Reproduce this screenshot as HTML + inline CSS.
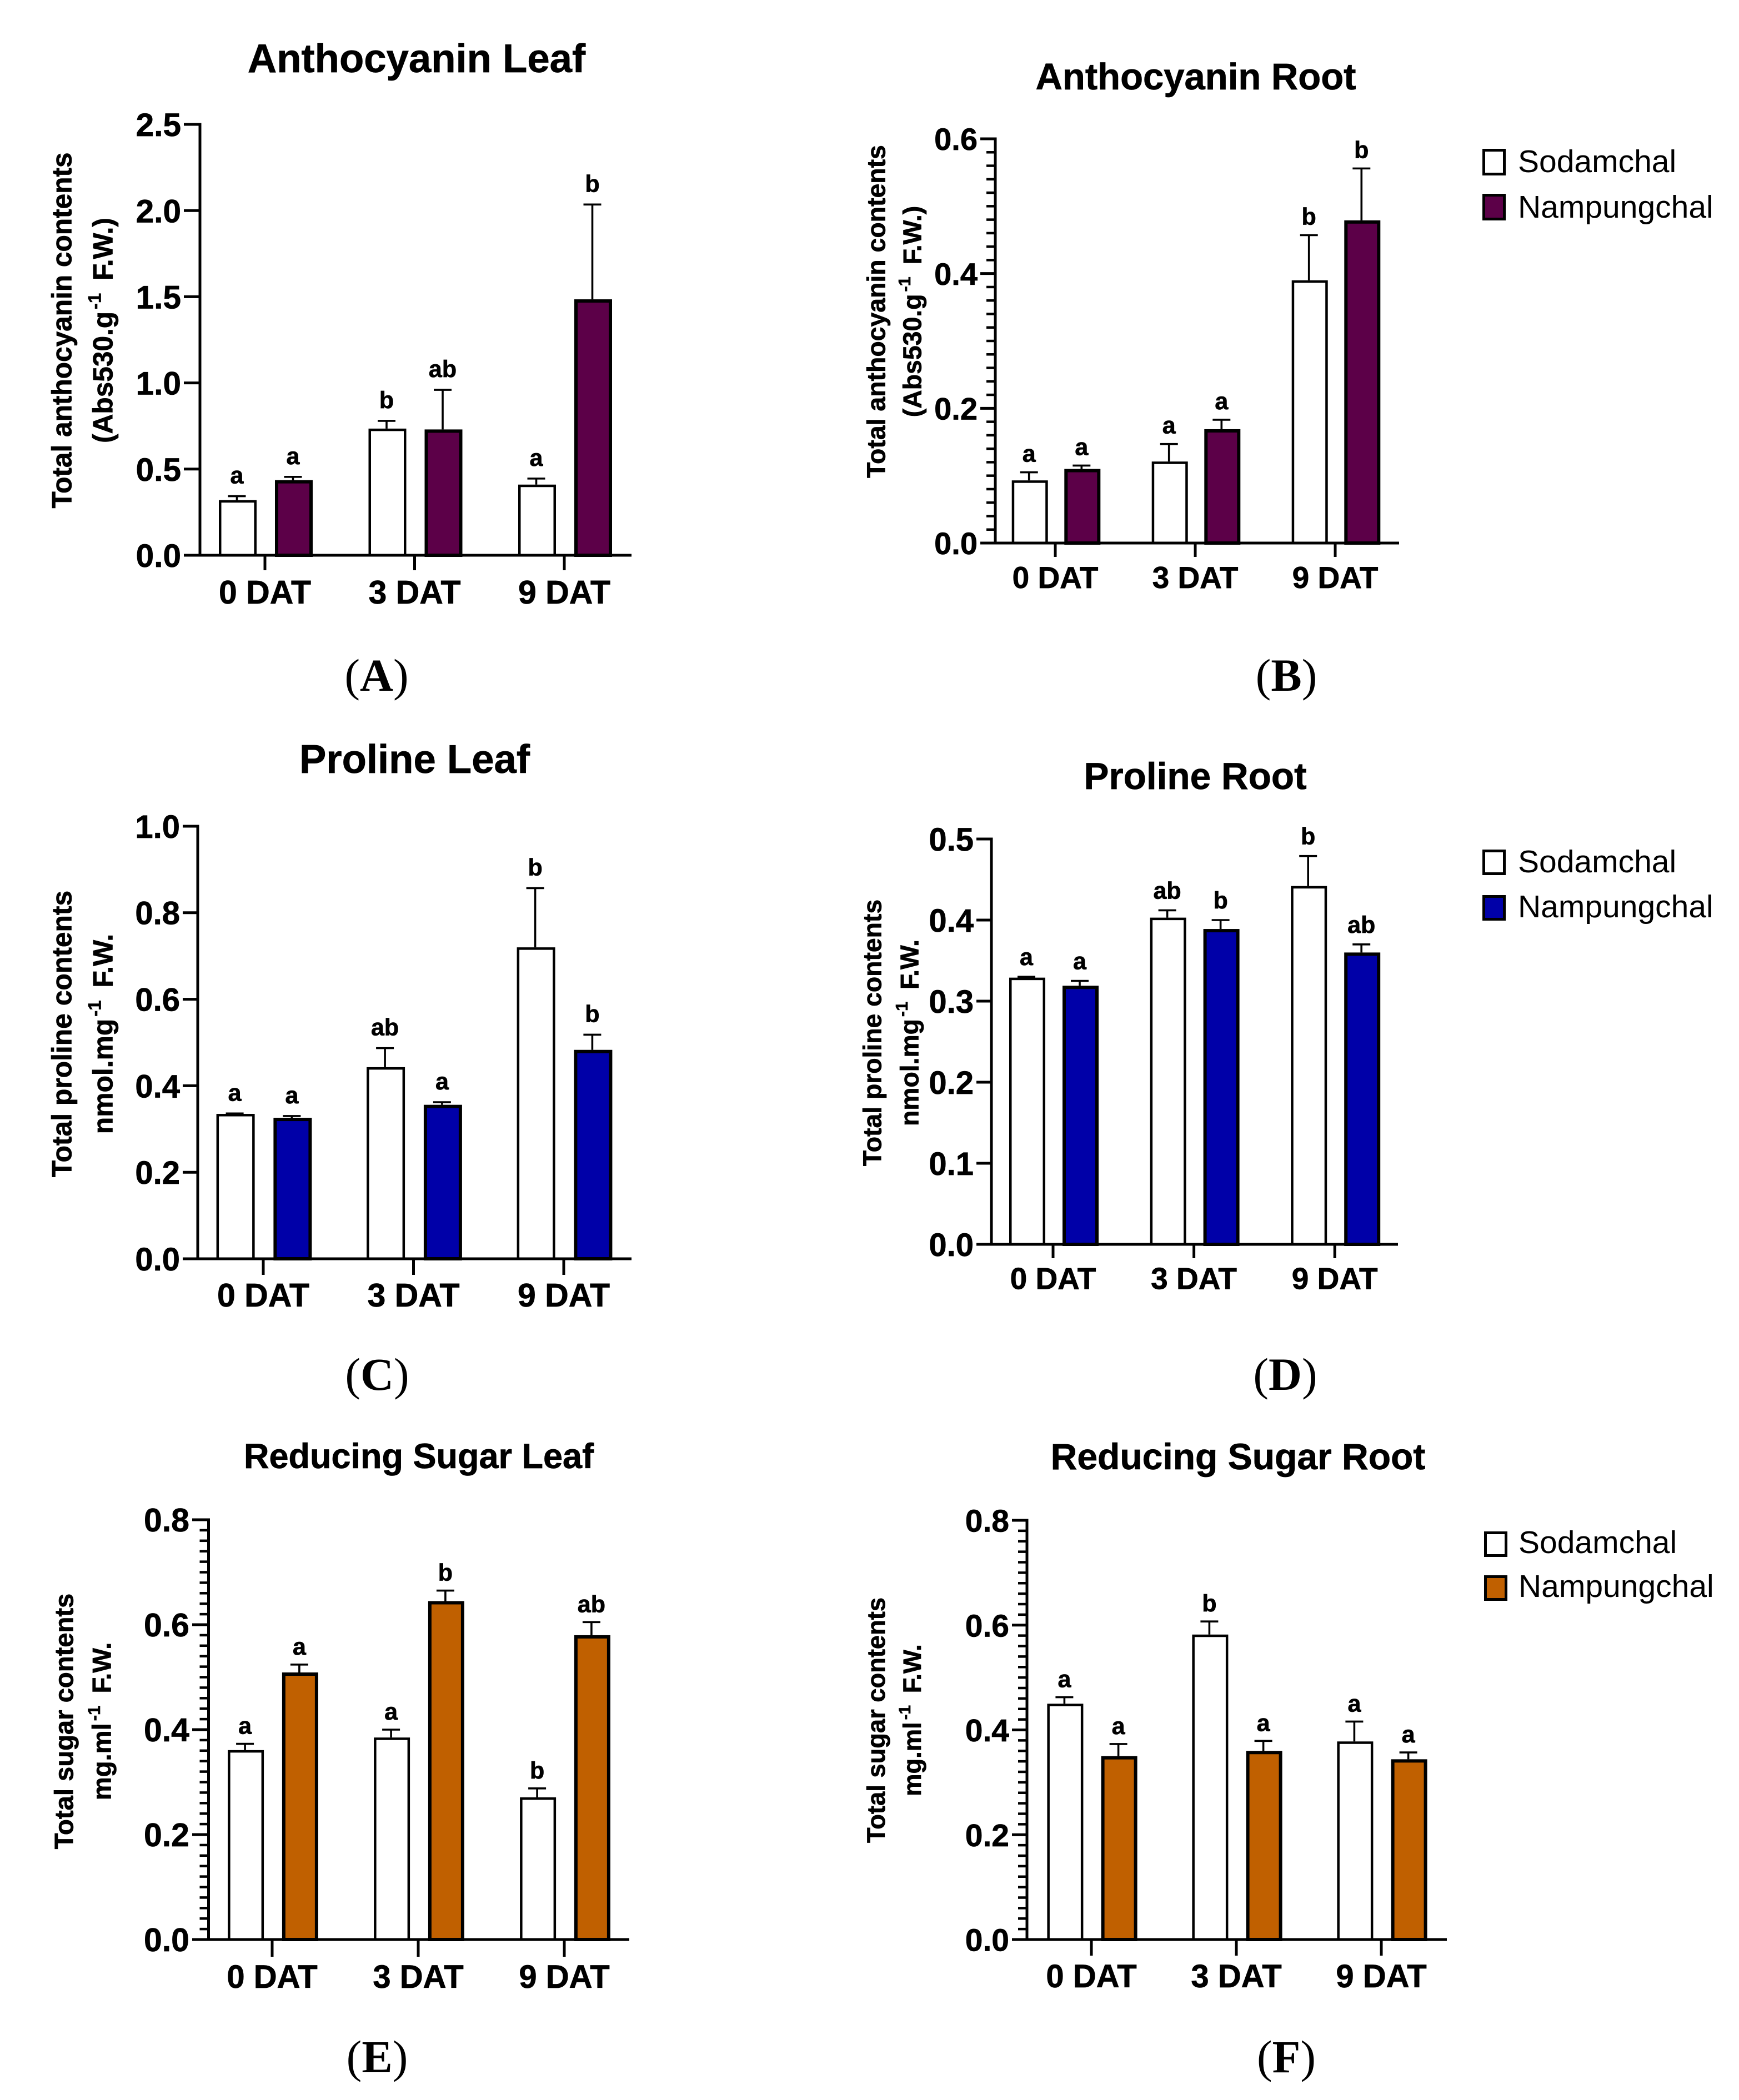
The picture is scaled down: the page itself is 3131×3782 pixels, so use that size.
<!DOCTYPE html>
<html lang="en">
<head>
<meta charset="utf-8">
<title>Anthocyanin, proline and reducing sugar contents</title>
<style>
html,body{margin:0;padding:0;background:#fff;}
svg{display:block;}
text{font-family:"Liberation Sans",Arial,sans-serif;fill:#000;}
text[font-weight="bold"]{stroke:#000;stroke-width:0.7px;}
.serif{font-family:"Liberation Serif","Times New Roman",serif;}
</style>
</head>
<body>
<svg id="figure" xmlns="http://www.w3.org/2000/svg" width="3131" height="3782" viewBox="0 0 3131 3782"></svg>
<script>
const categories = ['0 DAT', '3 DAT', '9 DAT'];
const legendNames = ['Sodamchal', 'Nampungchal'];

const anthoLeafTicks = ['0.0', '0.5', '1.0', '1.5', '2.0', '2.5'];
const anthoLeafSodamchal = [0.32, 0.735, 0.41];
const anthoLeafNampungchal = [0.436, 0.73, 1.485];
const anthoLeafSodamchalUpper = [0.343, 0.78, 0.445];
const anthoLeafNampungchalUpper = [0.455, 0.96, 2.035];
const anthoLeafSodamchalLetters = ['a', 'b', 'a'];
const anthoLeafNampungchalLetters = ['a', 'ab', 'b'];

const anthoRootTicks = ['0.0', '0.2', '0.4', '0.6'];
const anthoRootSodamchal = [0.093, 0.121, 0.39];
const anthoRootNampungchal = [0.11, 0.169, 0.479];
const anthoRootSodamchalUpper = [0.105, 0.147, 0.457];
const anthoRootNampungchalUpper = [0.115, 0.183, 0.556];
const anthoRootSodamchalLetters = ['a', 'a', 'b'];
const anthoRootNampungchalLetters = ['a', 'a', 'b'];

const prolineLeafTicks = ['0.0', '0.2', '0.4', '0.6', '0.8', '1.0'];
const prolineLeafSodamchal = [0.335, 0.443, 0.72];
const prolineLeafNampungchal = [0.326, 0.356, 0.483];
const prolineLeafSodamchalUpper = [0.336, 0.487, 0.857];
const prolineLeafNampungchalUpper = [0.33, 0.362, 0.518];
const prolineLeafSodamchalLetters = ['a', 'ab', 'b'];
const prolineLeafNampungchalLetters = ['a', 'a', 'b'];

const prolineRootTicks = ['0.0', '0.1', '0.2', '0.3', '0.4', '0.5'];
const prolineRootSodamchal = [0.329, 0.403, 0.442];
const prolineRootNampungchal = [0.319, 0.389, 0.36];
const prolineRootSodamchalUpper = [0.33, 0.412, 0.479];
const prolineRootNampungchalUpper = [0.325, 0.40, 0.37];
const prolineRootSodamchalLetters = ['a', 'ab', 'b'];
const prolineRootNampungchalLetters = ['a', 'b', 'ab'];

const sugarLeafTicks = ['0.0', '0.2', '0.4', '0.6', '0.8'];
const sugarLeafSodamchal = [0.361, 0.385, 0.271];
const sugarLeafNampungchal = [0.509, 0.645, 0.58];
const sugarLeafSodamchalUpper = [0.373, 0.40, 0.288];
const sugarLeafNampungchalUpper = [0.524, 0.665, 0.605];
const sugarLeafSodamchalLetters = ['a', 'a', 'b'];
const sugarLeafNampungchalLetters = ['a', 'b', 'ab'];

const sugarRootTicks = ['0.0', '0.2', '0.4', '0.6', '0.8'];
const sugarRootSodamchal = [0.45, 0.582, 0.378];
const sugarRootNampungchal = [0.35, 0.36, 0.344];
const sugarRootSodamchalUpper = [0.4625, 0.607, 0.416];
const sugarRootNampungchalUpper = [0.373, 0.379, 0.357];
const sugarRootSodamchalLetters = ['a', 'b', 'a'];
const sugarRootNampungchalLetters = ['a', 'a', 'a'];

const svgRoot = document.getElementById('figure');
const NS = 'http://www.w3.org/2000/svg';

function make(parent, tag, attrs, content) {
  const node = document.createElementNS(NS, tag);
  for (const k in attrs) node.setAttribute(k, attrs[k]);
  if (content !== undefined) node.textContent = content;
  parent.appendChild(node);
  return node;
}

function drawYLabel(g, cx, cy, size, text, sup, rest, name) {
  const bx = cx + size * 0.33;
  const el = make(g, 'text', {
    transform: 'translate(' + bx + ' ' + cy + ') rotate(-90)',
    'text-anchor': 'middle', 'font-size': size, 'font-weight': 'bold'
  });
  
  
  make(el, 'tspan', {}, text);
  if (sup) {
    make(el, 'tspan', { dx: 4, dy: -size * 0.42, 'font-size': size * 0.66 }, sup);
    make(el, 'tspan', { dx: 9, dy: size * 0.42 }, rest);
  }
}

function drawPanel(p) {
  const g = make(svgRoot, 'g', {});
  
  

  const maxV = parseFloat(p.ticks[p.ticks.length - 1]);
  const yAxis = v => p.base - (v / maxV) * (p.base - p.top);
  const xAxis = i => p.x0 + i * p.step;

  const title = make(g, 'text', { x: p.titleX, y: p.titleY, 'text-anchor': 'middle', 'font-size': p.titleSize, 'font-weight': 'bold' }, p.title);
  
  

  drawYLabel(g, p.ylx1, p.lblY, p.lblSize, p.ylabel1, null, null, p.id + '-y-axis-title');
  drawYLabel(g, p.ylx2, p.lblY, p.lblSize, p.ylabel2[0], p.ylabel2[1], p.ylabel2[2], p.id + '-y-axis-unit');

  const series = [
    { name: 'sodamchal', vals: p.a, up: p.aUp, letters: p.aLet, fill: '#ffffff', sw: 4.5, side: -1 },
    { name: 'nampungchal', vals: p.b, up: p.bUp, letters: p.bLet, fill: p.color, sw: 6, side: 1 }
  ];
  series.forEach(s => {
    s.vals.forEach((v, i) => {
      const cx = xAxis(i) + s.side * p.off;
      const errTop = yAxis(s.up[i]);
      const barTop = yAxis(v);

      const stem = make(g, 'line', { x1: cx, x2: cx, y1: errTop, y2: barTop, stroke: '#000', 'stroke-width': 3.6 });
      
      

      const cap = make(g, 'line', { x1: cx - 16, x2: cx + 16, y1: errTop, y2: errTop, stroke: '#000', 'stroke-width': 3.6 });
      
      

      const bar = make(g, 'rect', {
        x: cx - p.barW / 2 + 1.5 + s.sw / 2, y: barTop + s.sw / 2,
        width: p.barW - s.sw, height: Math.max(0, p.base - barTop - s.sw / 2),
        fill: s.fill, stroke: '#000', 'stroke-width': s.sw
      });
      
      

      const letter = make(g, 'text', { x: cx, y: errTop - p.gap, 'text-anchor': 'middle', 'font-size': 43, 'font-weight': 'bold' }, s.letters[i]);
      
      
    });
  });

  p.ticks.forEach((t, i) => {
    const val = parseFloat(t);
    const ty = yAxis(val);
    const tick = make(g, 'line', { x1: p.tickL, x2: p.ax, y1: ty, y2: ty, stroke: '#000', 'stroke-width': 5 });
    
    

    const lab = make(g, 'text', { x: p.tickL - 5, y: ty + p.tickSize * 0.36, 'text-anchor': 'end', 'font-size': p.tickSize, 'font-weight': 'bold' }, t);
    
    

    if (p.minor && i < p.ticks.length - 1) {
      const nextVal = parseFloat(p.ticks[i + 1]);
      for (let m = 1; m < p.minor; m++) {
        const my = yAxis(val + (nextVal - val) * m / p.minor);
        const mt = make(g, 'line', { x1: p.ax - 16, x2: p.ax, y1: my, y2: my, stroke: '#000', 'stroke-width': 4.5 });
        
        
      }
    }
  });

  const yLine = make(g, 'line', { x1: p.ax, x2: p.ax, y1: p.top - 2.5, y2: p.base + 2.5, stroke: '#000', 'stroke-width': 5 });
  
  

  const xLine = make(g, 'line', { x1: p.tickL, x2: p.right, y1: p.base, y2: p.base, stroke: '#000', 'stroke-width': 5 });
  
  

  categories.forEach((c, i) => {
    const cx = xAxis(i);
    const tick = make(g, 'line', { x1: cx, x2: cx, y1: p.base, y2: p.tickB, stroke: '#000', 'stroke-width': 5 });
    
    

    const lab = make(g, 'text', { x: cx, y: p.xLabY, 'text-anchor': 'middle', 'font-size': p.xSize, 'font-weight': 'bold' }, c);
    
    
  });

  const tag = make(g, 'text', { class: 'serif', x: p.tagX, y: p.tagY, 'text-anchor': 'middle', 'font-size': 83 });
  
  
  tag.style.fontFamily = '"Liberation Serif","Times New Roman",serif';
  make(tag, 'tspan', {}, '(');
  make(tag, 'tspan', { 'font-weight': 'bold' }, p.tag);
  make(tag, 'tspan', {}, ')');

  if (p.legend) {
    const L = p.legend;
    legendNames.forEach((name, i) => {
      const sw = make(g, 'rect', {
        x: L.x + 2.5, y: L.ys[i] + 2.5, width: 37, height: L.h - 5,
        fill: i === 0 ? '#ffffff' : p.color, stroke: '#000', 'stroke-width': 5
      });
      
      

      const txt = make(g, 'text', { x: L.tx, y: L.tys[i], 'font-size': 57 }, name);
      
      
    });
  }
}

const PURPLE = '#5c0048';
const BLUE = '#0000a8';
const ORANGE = '#c06000';

drawPanel({ id: 'anthocyanin-leaf', title: 'Anthocyanin Leaf', titleX: 750, titleY: 130, titleSize: 72.5,
  ylabel1: 'Total anthocyanin contents', ylabel2: ['(Abs530.g', '-1', ' F.W.)'], ylx1: 112, ylx2: 186, lblY: 595, lblSize: 49.6,
  ticks: anthoLeafTicks, a: anthoLeafSodamchal, b: anthoLeafNampungchal, aUp: anthoLeafSodamchalUpper, bUp: anthoLeafNampungchalUpper,
  aLet: anthoLeafSodamchalLetters, bLet: anthoLeafNampungchalLetters, color: PURPLE,
  ax: 360, top: 224, base: 1000, tickL: 331, right: 1137, tickB: 1027, x0: 477, step: 269.5, off: 50.5, barW: 68, gap: 23,
  tickSize: 58.5, xSize: 59, xLabY: 1087, tag: 'A', tagX: 678, tagY: 1244 });

drawPanel({ id: 'anthocyanin-root', title: 'Anthocyanin Root', titleX: 2153, titleY: 161, titleSize: 67,
  ylabel1: 'Total anthocyanin contents', ylabel2: ['(Abs530.g', '-1', ' F.W.)'], ylx1: 1578, ylx2: 1643, lblY: 561, lblSize: 46.4,
  ticks: anthoRootTicks, a: anthoRootSodamchal, b: anthoRootNampungchal, aUp: anthoRootSodamchalUpper, bUp: anthoRootNampungchalUpper,
  aLet: anthoRootSodamchalLetters, bLet: anthoRootNampungchalLetters, color: PURPLE, minor: 10,
  ax: 1792, top: 250, base: 978, tickL: 1765, right: 2519, tickB: 1003, x0: 1900, step: 252, off: 47.3, barW: 65, gap: 19,
  tickSize: 56, xSize: 55, xLabY: 1059, tag: 'B', tagX: 2316, tagY: 1244,
  legend: { x: 2669, h: 48, ys: [268, 349], tx: 2733, tys: [310, 392] } });

drawPanel({ id: 'proline-leaf', title: 'Proline Leaf', titleX: 746.5, titleY: 1392, titleSize: 72.5,
  ylabel1: 'Total proline contents', ylabel2: ['nmol.mg', '-1', ' F.W.'], ylx1: 112, ylx2: 186, lblY: 1862, lblSize: 49.8,
  ticks: prolineLeafTicks, a: prolineLeafSodamchal, b: prolineLeafNampungchal, aUp: prolineLeafSodamchalUpper, bUp: prolineLeafNampungchalUpper,
  aLet: prolineLeafSodamchalLetters, bLet: prolineLeafNampungchalLetters, color: BLUE,
  ax: 356, top: 1488, base: 2267, tickL: 329, right: 1137, tickB: 2296, x0: 474, step: 270.5, off: 51.4, barW: 69, gap: 23,
  tickSize: 58, xSize: 59, xLabY: 2353, tag: 'C', tagX: 679, tagY: 2503 });

drawPanel({ id: 'proline-root', title: 'Proline Root', titleX: 2152, titleY: 1421, titleSize: 67.5,
  ylabel1: 'Total proline contents', ylabel2: ['nmol.mg', '-1', ' F.W.'], ylx1: 1571, ylx2: 1638, lblY: 1860, lblSize: 46.3,
  ticks: prolineRootTicks, a: prolineRootSodamchal, b: prolineRootNampungchal, aUp: prolineRootSodamchalUpper, bUp: prolineRootNampungchalUpper,
  aLet: prolineRootSodamchalLetters, bLet: prolineRootNampungchalLetters, color: BLUE,
  ax: 1785, top: 1511, base: 2241, tickL: 1758, right: 2517, tickB: 2266, x0: 1896, step: 253.6, off: 48, barW: 65, gap: 21,
  tickSize: 58, xSize: 55, xLabY: 2321.5, tag: 'D', tagX: 2314, tagY: 2503,
  legend: { x: 2669, h: 46, ys: [1530, 1612], tx: 2733, tys: [1571, 1652] } });

drawPanel({ id: 'reducing-sugar-leaf', title: 'Reducing Sugar Leaf', titleX: 754, titleY: 2644, titleSize: 63,
  ylabel1: 'Total sugar contents', ylabel2: ['mg.ml', '-1', ' F.W.'], ylx1: 116, ylx2: 184, lblY: 3100, lblSize: 47.2,
  ticks: sugarLeafTicks, a: sugarLeafSodamchal, b: sugarLeafNampungchal, aUp: sugarLeafSodamchalUpper, bUp: sugarLeafNampungchalUpper,
  aLet: sugarLeafSodamchalLetters, bLet: sugarLeafNampungchalLetters, color: ORANGE, minor: 10,
  ax: 375.5, top: 2737, base: 3493, tickL: 346, right: 1133, tickB: 3524, x0: 490, step: 263, off: 48.9, barW: 65, gap: 18,
  tickSize: 59, xSize: 58, xLabY: 3580, tag: 'E', tagX: 679, tagY: 3732 });

drawPanel({ id: 'reducing-sugar-root', title: 'Reducing Sugar Root', titleX: 2229, titleY: 2646, titleSize: 66,
  ylabel1: 'Total sugar contents', ylabel2: ['mg.ml', '-1', ' F.W.'], ylx1: 1578, ylx2: 1643, lblY: 3098, lblSize: 45.3,
  ticks: sugarRootTicks, a: sugarRootSodamchal, b: sugarRootNampungchal, aUp: sugarRootSodamchalUpper, bUp: sugarRootNampungchalUpper,
  aLet: sugarRootSodamchalLetters, bLet: sugarRootNampungchalLetters, color: ORANGE, minor: 10,
  ax: 1849, top: 2738, base: 3493, tickL: 1822, right: 2605, tickB: 3522, x0: 1965, step: 261, off: 48.6, barW: 65, gap: 18,
  tickSize: 57, xSize: 58, xLabY: 3579, tag: 'F', tagX: 2316, tagY: 3732,
  legend: { x: 2672, h: 46, ys: [2758, 2837], tx: 2734, tys: [2797, 2876] } });
</script>
</body>
</html>
